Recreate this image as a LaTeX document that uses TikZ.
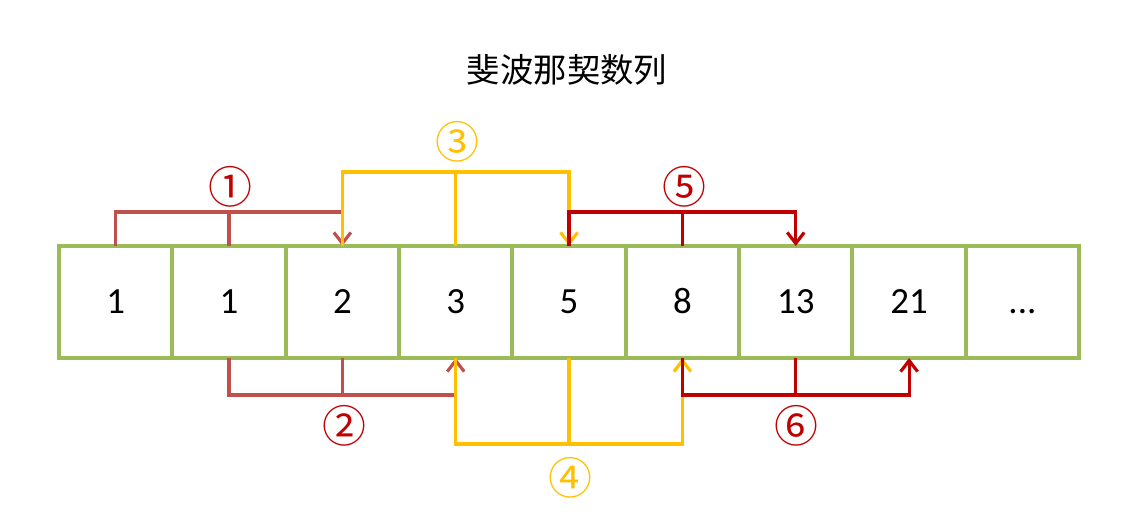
\documentclass[tikz,border=0pt]{standalone}
\usepackage{fontspec}
\setmainfont{Carlito}
\newfontfamily\cjk{Noto Sans CJK SC}
\usetikzlibrary{positioning,arrows.meta}
\definecolor{boxgreen}{HTML}{9BBB59}
\definecolor{softred}{HTML}{C0504D}
\definecolor{gold}{HTML}{FFC000}
\definecolor{darkred}{HTML}{C00000}
\tikzset{
  cell/.style={draw=boxgreen, line width=2.3pt, minimum width=2.267cm, minimum height=2.24cm,
    outer sep=0pt, inner sep=0pt, text height=13.2pt, text depth=0pt,
    font=\fontsize{21}{21}\selectfont},
  link/.style={line width=1.8pt},
  tip/.style={-{Straight Barb[length=0.22cm, width=0.34cm, line width=1.8pt]}},
  tag/.style={font=\cjk\fontsize{25}{25}\selectfont, inner sep=0pt}
}
\begin{document}
\begin{tikzpicture}
  \useasboundingbox (0,0) rectangle (22.96,10.58);
  % title
  \node[font=\cjk\fontsize{19}{19}\selectfont] (title) at (11.34,9.18) {斐波那契数列};
  % cells
  \node[cell] (b1) at (2.313,4.54) {1};
  \node[cell, right=0cm of b1] (b2) {1};
  \node[cell, right=0cm of b2] (b3) {2};
  \node[cell, right=0cm of b3] (b4) {3};
  \node[cell, right=0cm of b4] (b5) {5};
  \node[cell, right=0cm of b5] (b6) {8};
  \node[cell, right=0cm of b6] (b7) {13};
  \node[cell, right=0cm of b7] (b8) {21};
  \node[cell, right=0cm of b8] (b9) {...};
  % step 1
  \draw[link, softred, tip] (b1.north) -- ++(0,0.68) -| (b3.north);
  \draw[link, softred] (b2.north) -- ++(0,0.68);
  \node[tag, darkred] (t1) at (4.6,6.84) {①};
  % step 2
  \draw[link, softred, tip] (b2.south) -- ++(0,-0.74) -| (b4.south);
  \draw[link, softred] (b3.south) -- ++(0,-0.74);
  \node[tag, darkred] (t2) at (6.88,2.06) {②};
  % step 3
  \draw[link, gold, tip] (b3.north) -- ++(0,1.48) -| (b5.north);
  \draw[link, gold] (b4.north) -- ++(0,1.48);
  \node[tag, gold] (t3) at (9.14,7.74) {③};
  % step 4
  \draw[link, gold, tip] (b4.south) -- ++(0,-1.72) -| (b6.south);
  \draw[link, gold] (b5.south) -- ++(0,-1.72);
  \node[tag, gold] (t4) at (11.4,1.02) {④};
  % step 5
  \draw[link, darkred, tip] (b5.north) -- ++(0,0.68) -| (b7.north);
  \draw[link, darkred] (b6.north) -- ++(0,0.68);
  \node[tag, darkred] (t5) at (13.68,6.84) {⑤};
  % step 6
  \draw[link, darkred, tip] (b6.south) -- ++(0,-0.74) -| (b8.south);
  \draw[link, darkred] (b7.south) -- ++(0,-0.74);
  \node[tag, darkred] (t6) at (15.92,2.06) {⑥};
\end{tikzpicture}
\end{document}
